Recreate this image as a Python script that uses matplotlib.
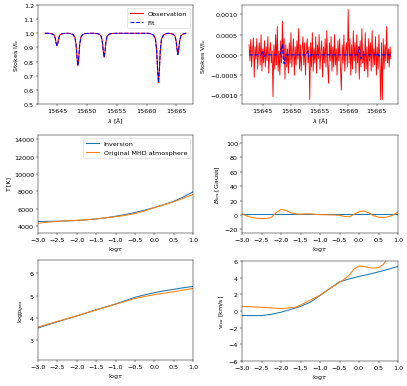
import numpy as np
import matplotlib
matplotlib.use("Agg")
import matplotlib.pyplot as plt

plt.rcParams['lines.linewidth'] = 1.8
plt.rcParams['font.size'] = 11

# ---------------- data ----------------
wav_I = [15643.0, 15643.5,
         15643.8, 15644.2, 15644.5, 15644.7, 15644.85, 15645.0, 15645.15, 15645.3, 15645.5, 15645.8, 15646.2,
         15646.8,
         15647.3, 15647.7, 15648.0, 15648.2, 15648.35, 15648.5, 15648.65, 15648.8, 15649.0, 15649.3, 15649.7,
         15650.5, 15651.2,
         15651.7, 15652.1, 15652.4, 15652.6, 15652.75, 15652.9, 15653.05, 15653.2, 15653.4, 15653.7, 15654.1,
         15655.0, 15657.0, 15659.0, 15660.3,
         15660.8, 15661.2, 15661.5, 15661.7, 15661.85, 15662.0, 15662.15, 15662.3, 15662.5, 15662.8, 15663.2,
         15663.6,
         15664.05, 15664.45, 15664.75, 15664.95, 15665.1, 15665.25, 15665.4, 15665.55, 15665.75, 15666.05, 15666.45,
         15666.6]
stokes_I_obs = [1.0, 1.0,
                0.999, 0.996, 0.989, 0.968, 0.932, 0.910, 0.932, 0.968, 0.989, 0.996, 0.999,
                1.0,
                0.998, 0.991, 0.972, 0.920, 0.830, 0.770, 0.830, 0.920, 0.972, 0.991, 0.998,
                1.0, 1.0,
                0.998, 0.993, 0.980, 0.940, 0.873, 0.830, 0.873, 0.940, 0.980, 0.993, 0.998,
                1.0, 1.0, 1.0, 1.0,
                0.996, 0.986, 0.958, 0.878, 0.740, 0.650, 0.740, 0.878, 0.958, 0.986, 0.996,
                1.0,
                0.998, 0.994, 0.982, 0.948, 0.888, 0.850, 0.888, 0.948, 0.982, 0.994, 0.998,
                1.0]
stokes_I_fit = [1.0, 1.0,
                0.999, 0.996, 0.989, 0.967, 0.931, 0.911, 0.931, 0.967, 0.989, 0.996, 0.999,
                1.0,
                0.998, 0.991, 0.971, 0.919, 0.831, 0.772, 0.831, 0.919, 0.971, 0.991, 0.998,
                1.0, 1.0,
                0.998, 0.993, 0.979, 0.939, 0.874, 0.832, 0.874, 0.939, 0.979, 0.993, 0.998,
                1.0, 1.0, 1.0, 1.0,
                0.996, 0.986, 0.957, 0.877, 0.741, 0.652, 0.741, 0.877, 0.957, 0.986, 0.996,
                1.0,
                0.998, 0.994, 0.981, 0.947, 0.889, 0.851, 0.889, 0.947, 0.981, 0.994, 0.998,
                1.0]

# Stokes V (in units of 1e-4), sampled from 15642.6 to 15667.5 A
stokes_V_obs_e4 = [2.5, -1.5, 3.8, -3.0, 1.0, 4.2, -5.5, 2.0, -1.0, 4.0,
                   -3.5, 0.5, 3.0, -2.5, 5.0, -4.0, 1.5, -2.0, 3.5, -3.0,
                   2.0, -1.5, 4.5, -4.5, 0.5, 3.0, -2.0, 1.0, -10.3, 2.5,
                   -3.5, 5.0, -2.5, 7.0, -4.0, 1.0, -5.0, 3.5, -2.0, 8.3,
                   -1.0, 4.0, -6.0, 2.5, -3.0, 1.5, -4.5, 3.0, -2.0, 5.5,
                   -3.0, 0.5, 4.0, -5.0, 2.0, -2.5, 3.5, -1.0, 6.5, -3.5,
                   2.5, -4.0, 1.0, 4.5, -2.5, 3.0, -5.0, 1.5, 4.0, -2.0,
                   2.0, -11.0, 3.0, -3.0, 5.5, -4.0, 1.5, -2.0, 4.5, -4.5,
                   2.5, -1.0, 5.0, -3.5, 1.0, 3.5, -5.5, 2.0, -2.0, 4.0,
                   -3.0, 6.0, -2.5, -7.0, 3.0, -1.5, 4.5, -4.0, 2.0, -3.0,
                   5.0, -2.5, 1.5, -5.0, 3.5, -1.5, 4.0, -3.5, -8.7, 2.5,
                   -2.0, 5.0, -4.0, 1.0, 3.0, -3.0, 11.2, -2.0, 4.0, -5.0,
                   2.5, -3.5, 6.0, -1.5, 3.0, -4.5, 5.0, -2.0, 2.0, -6.0,
                   3.5, -3.0, 6.5, -2.0, 1.0, -4.0, 5.5, -3.5, 2.0, -5.5,
                   4.0, -1.5, 3.0, -4.0, 6.0, -3.0, 1.5, -2.5, 4.5, -5.0,
                   2.0, -3.5, 5.0, -2.0, -11.0, 3.0, -11.0, 4.0, -3.5, 2.5,
                   -1.5, 7.0, -2.0, 1.5, -3.0, 2.0, -1.0]
stokes_V_fit_e4 = [0, 0, 0, 0, 0, 0, 0, 0, 0, 0,
                   0, 0, 0, 0, 0, 0.5, 1.0, -0.5, -0.3, 0,
                   0, 0, 0, 0, 0, 0, 0, 0, 0, 0,
                   0, 0, 0, 0, 0, 0, 0, 0.8, 2.0, 2.5,
                   -1.0, -2.2, -0.8, 0, 0, 0, 0, 0, 0, 0,
                   0, 0, 0, 0, 0, 0, 0, 0, 0, 0,
                   0, 0, 0, 0, 0, 0, 0, 0, 0.6, 1.0,
                   -0.5, -0.3, 0, 0, 0, 0, 0, 0, 0, 0,
                   0, 0, 0, 0, 0, 0, 0, 0, 0, 0,
                   0, 0, 0, 0, 0, 0, 0, 0, 0, 0,
                   0, 0, 0, 0, 0, 0, 0, 0, 0, 0,
                   0, 0, 0, 0, 0, 0, 0, 0, 0, 0,
                   0, 0, 0, 0, 0, 0, 0, 0, 0.8, 2.0,
                   -0.5, -1.0, -0.4, 0, 0, 0, 0, 0, 0, 0,
                   0, 0, 0, 0, 0, 0, 0, 0, 0, 0,
                   0, 0.3, -0.3, 0, 0, 0, 0, 0, 0, 0,
                   0, 0, 0, 0, 0, 0, 0]
wav_V_start, wav_V_end = 15642.6, 15667.5

logtau_coarse = [-3.0, -2.75, -2.5, -2.25, -2.0, -1.75, -1.5, -1.25, -1.0,
                 -0.75, -0.5, -0.25, 0.0, 0.25, 0.5, 0.75, 1.0]
T_inv = [4530, 4540, 4560, 4595, 4640, 4720, 4820, 4960, 5130,
         5330, 5560, 5830, 6130, 6470, 6850, 7350, 7950]
T_mhd = [4320, 4450, 4540, 4600, 4660, 4730, 4830, 4950, 5080,
         5240, 5440, 5740, 6120, 6460, 6800, 7200, 7650]
logp_inv = [3.54, 3.68, 3.82, 3.95, 4.08, 4.22, 4.36, 4.49, 4.62,
            4.77, 4.92, 5.03, 5.13, 5.21, 5.28, 5.35, 5.41]
logp_mhd = [3.58, 3.71, 3.84, 3.96, 4.09, 4.22, 4.35, 4.48, 4.61,
            4.74, 4.87, 4.96, 5.04, 5.11, 5.17, 5.25, 5.32]
B_inv = [1.5] * 17
v_inv = [-0.55, -0.55, -0.55, -0.4, -0.15, 0.2, 0.55, 1.05, 1.85,
         2.7, 3.5, 3.85, 4.15, 4.4, 4.7, 5.0, 5.35]

logtau_fine = [-3.0, -2.875, -2.75, -2.625, -2.5, -2.375, -2.25, -2.125, -2.0,
               -1.875, -1.75, -1.625, -1.5, -1.375, -1.25, -1.125, -1.0,
               -0.875, -0.75, -0.625, -0.5, -0.375, -0.25, -0.125, 0.0,
               0.125, 0.25, 0.375, 0.5, 0.625, 0.75, 0.875, 1.0]
B_mhd = [1.5, -1.5, -3.5, -4.5, -5.0, -4.8, -3.5, 3.0, 7.8,
         6.5, 3.0, 1.5, 1.2, 1.5, 1.5, 1.0, 0.5,
         0.3, 0.2, 0.0, -0.5, -2.0, -2.5, 1.0, 4.5,
         5.5, 3.0, -1.0, -3.0, -3.5, -2.5, 0.0, 4.0]
v_mhd = [0.55, 0.52, 0.5, 0.47, 0.45, 0.42, 0.38, 0.33, 0.3,
         0.33, 0.42, 0.45, 0.7, 1.0, 1.3, 1.6, 1.9,
         2.27, 2.7, 3.05, 3.42, 3.83, 4.3, 5.05, 5.4,
         5.35, 5.2, 5.15, 5.2, 5.6, 6.4, 7.0, 7.5]

# ---------------- plot ----------------
dpi = 42
fig = plt.figure(figsize=(407 / dpi, 387 / dpi), dpi=dpi)

W, H = 407.0, 387.0
def pos(x0, x1, y0, y1):
    return [x0 / W, 1 - y1 / H, (x1 - x0) / W, (y1 - y0) / H]

ax1 = fig.add_axes(pos(38, 193, 6, 105))
ax2 = fig.add_axes(pos(242, 398, 6, 105))
ax3 = fig.add_axes(pos(38, 193, 136, 234))
ax4 = fig.add_axes(pos(242, 398, 136, 234))
ax5 = fig.add_axes(pos(38, 193, 261, 361))
ax6 = fig.add_axes(pos(242, 398, 262, 362))

# Stokes I
ax1.plot(wav_I, stokes_I_obs, color='r', label='Observation')
ax1.plot(wav_I, stokes_I_fit, color='b', linestyle='--', label='Fit')
ax1.set_ylim(0.5, 1.2)
ax1.set_xticks([15645, 15650, 15655, 15660, 15665])
ax1.set_xlabel(r'$\lambda$ [Å]')
ax1.set_ylabel(r'Stokes I/I$_c$')
ax1.legend(loc='upper right')

# Stokes V
wav_V = np.linspace(wav_V_start, wav_V_end, len(stokes_V_obs_e4))
ax2.plot(wav_V, np.array(stokes_V_obs_e4) * 1e-4, color='r', lw=1.5)
ax2.plot(wav_V, np.array(stokes_V_fit_e4) * 1e-4, color='b', linestyle='--')
ax2.set_xticks([15645, 15650, 15655, 15660, 15665])
ax2.set_xlabel(r'$\lambda$ [Å]')
ax2.set_ylabel(r'Stokes V/I$_c$')

# Temperature
ax3.plot(logtau_coarse, T_inv, label='Inversion')
ax3.plot(logtau_coarse, T_mhd, label='Original MHD atmosphere')
ax3.set_xlim(-3, 1)
ax3.set_ylim(3200, 14500)
ax3.set_xlabel(r'log$\tau$')
ax3.set_ylabel('T [K]')
ax3.legend(loc='upper right')

# B los
ax4.plot(logtau_coarse, B_inv)
ax4.plot(logtau_fine, B_mhd)
ax4.set_xlim(-3, 1)
ax4.set_ylim(-25, 111)
ax4.set_xlabel(r'log$\tau$')
ax4.set_ylabel(r'$B_{los}$ [Gauss]')

# log p gas
ax5.plot(logtau_coarse, logp_inv)
ax5.plot(logtau_coarse, logp_mhd)
ax5.set_xlim(-3, 1)
ax5.set_ylim(2.1, 6.6)
ax5.set_xlabel(r'log$\tau$')
ax5.set_ylabel(r'logp$_{gas}$')

# v los
ax6.plot(logtau_coarse, v_inv)
ax6.plot(logtau_fine, v_mhd)
ax6.set_xlim(-3, 1)
ax6.set_ylim(-6, 6)
ax6.set_xlabel(r'log$\tau$')
ax6.set_ylabel(r'v$_{los}$ [km/s]')

fig.savefig('out.png', dpi=dpi)
